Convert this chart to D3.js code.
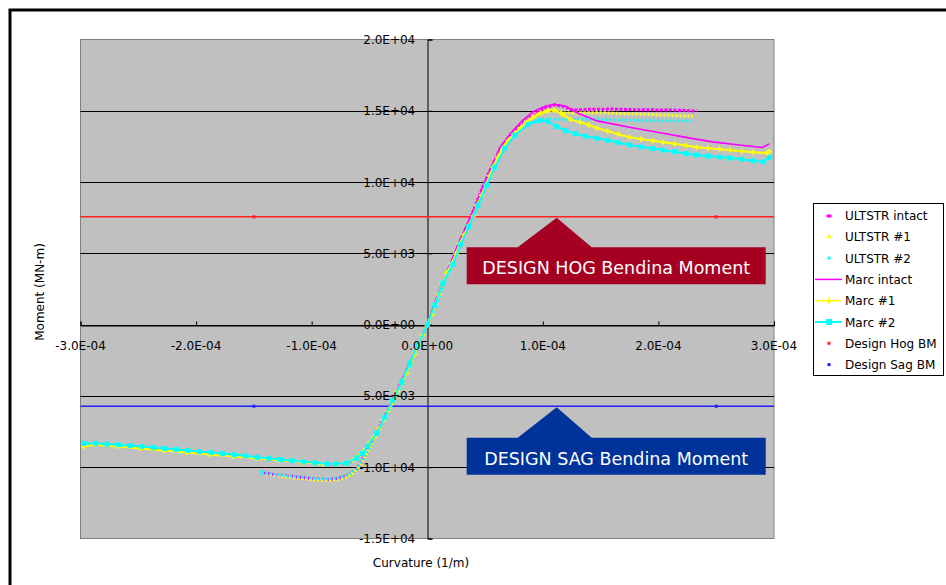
<!DOCTYPE html>
<html><head><meta charset="utf-8">
<script src="https://cdn.jsdelivr.net/npm/d3@7"></script>
<style>
body{margin:0;background:#fff}
svg{display:block}
text{font-family:"DejaVu Sans",sans-serif}
</style>
</head><body>
<svg id="c" width="946" height="585"></svg>
<script>
// Curvature values in units of 1E-04 (1/m); moments in MN-m
const xTicks = [-3,-2,-1,0,1,2,3];
const xTickLabels = ["-3.0E-04","-2.0E-04","-1.0E-04","0.0E+00","1.0E-04","2.0E-04","3.0E-04"];
const yTicks = [-15000,-10000,-5000,0,5000,10000,15000,20000];
const yTickLabels = ["-1.5E+04","-1.0E+04","-5.0E+03","0.0E+00","5.0E+03","1.0E+04","1.5E+04","2.0E+04"];
const seriesNames = ["ULTSTR intact","ULTSTR #1","ULTSTR #2","Marc intact","Marc #1","Marc #2","Design Hog BM","Design Sag BM"];

const ultstrIntact = [[-1.42,-10400],[-1.30,-10550],[-1.16,-10650],[-1.00,-10800],[-0.87,-10870],[-0.78,-10800],[-0.71,-10650],[-0.66,-10450],[-0.61,-10150],[-0.57,-9650],[-0.53,-8950],[-0.47,-8020],[-0.40,-6950],[-0.33,-5820],[-0.26,-4620],[-0.18,-3220],[-0.09,-1620],[0,0],[0.07,1460],[0.14,3020],[0.21,4320],[0.28,5760],[0.35,7010],[0.42,8420],[0.49,9870],[0.56,11130],[0.64,12470],[0.73,13380],[0.84,14250],[0.94,14820],[1.02,15200],[1.10,15420],[1.18,15300],[1.26,15050],[1.40,15100],[1.60,15120],[1.80,15080],[2.00,15060],[2.20,15040],[2.33,14980]];
const ultstr1 = [[-1.40,-10450],[-1.25,-10650],[-1.10,-10780],[-0.95,-10900],[-0.85,-10920],[-0.76,-10850],[-0.70,-10700],[-0.65,-10450],[-0.60,-10100],[-0.56,-9580],[-0.52,-8900],[-0.46,-7980],[-0.39,-6900],[-0.32,-5780],[-0.25,-4580],[-0.17,-3180],[-0.09,-1600],[0,0],[0.07,1440],[0.14,2990],[0.21,4290],[0.28,5730],[0.35,6980],[0.43,8390],[0.50,9840],[0.57,11100],[0.65,12430],[0.74,13330],[0.85,14170],[0.95,14700],[1.03,14950],[1.10,15050],[1.18,14850],[1.30,14850],[1.50,14870],[1.75,14790],[2.00,14720],[2.30,14620]];
const ultstr2 = [[-1.43,-10380],[-1.28,-10550],[-1.12,-10680],[-0.98,-10800],[-0.85,-10820],[-0.76,-10750],[-0.69,-10560],[-0.63,-10250],[-0.59,-9900],[-0.55,-9400],[-0.51,-8750],[-0.45,-7900],[-0.38,-6800],[-0.31,-5700],[-0.24,-4500],[-0.16,-3100],[-0.08,-1550],[0,0],[0.08,1400],[0.15,2950],[0.22,4250],[0.29,5680],[0.36,6930],[0.44,8330],[0.51,9800],[0.58,11060],[0.66,12400],[0.75,13300],[0.86,14100],[0.96,14380],[1.05,14420],[1.20,14380],[1.40,14420],[1.60,14360],[1.80,14330],[2.00,14300],[2.30,14280]];
const marcIntact = [[-2.97,-8620],[-2.90,-8380],[-2.70,-8510],[-2.50,-8650],[-2.30,-8790],[-2.10,-8930],[-1.90,-9070],[-1.70,-9210],[-1.50,-9350],[-1.30,-9490],[-1.10,-9630],[-0.95,-9740],[-0.82,-9820],[-0.72,-9770],[-0.65,-9600],[-0.60,-9380],[-0.56,-9080],[-0.52,-8650],[-0.47,-8080],[-0.43,-7580],[-0.37,-6560],[-0.30,-5360],[-0.22,-4060],[-0.15,-2740],[-0.08,-1470],[0,0],[0.06,1420],[0.13,2960],[0.20,4300],[0.27,5700],[0.34,6960],[0.42,8380],[0.49,9850],[0.56,11120],[0.63,12450],[0.72,13400],[0.82,14300],[0.92,14950],[1.02,15320],[1.10,15450],[1.20,15320],[1.30,14850],[1.47,14290],[1.75,13850],[2.04,13430],[2.25,13120],[2.47,12820],[2.70,12600],[2.90,12430],[2.96,12680]];
const marc1 = [[-2.97,-8560],[-2.88,-8400],[-2.68,-8540],[-2.48,-8680],[-2.28,-8820],[-2.08,-8960],[-1.88,-9100],[-1.68,-9240],[-1.48,-9380],[-1.28,-9520],[-1.08,-9660],[-0.90,-9790],[-0.78,-9800],[-0.70,-9700],[-0.64,-9500],[-0.59,-9220],[-0.55,-8850],[-0.51,-8400],[-0.46,-7880],[-0.42,-7300],[-0.38,-6700],[-0.34,-6050],[-0.30,-5380],[-0.26,-4700],[-0.22,-4060],[-0.18,-3380],[-0.15,-2720],[-0.11,-2080],[-0.08,-1450],[-0.04,-720],[0,0],[0.04,720],[0.07,1400],[0.10,2130],[0.13,2930],[0.17,3640],[0.21,4280],[0.25,4980],[0.28,5680],[0.32,6330],[0.36,6940],[0.40,7630],[0.43,8340],[0.47,9080],[0.51,9820],[0.54,10440],[0.57,11080],[0.61,11740],[0.66,12410],[0.70,12900],[0.75,13340],[0.81,13780],[0.86,14220],[0.92,14600],[0.98,14850],[1.04,15000],[1.10,15050],[1.17,14750],[1.24,14400],[1.32,14200],[1.40,14000],[1.47,13780],[1.56,13580],[1.65,13360],[1.75,13150],[1.85,13020],[1.95,12900],[2.04,12800],[2.14,12680],[2.24,12560],[2.33,12450],[2.43,12380],[2.53,12310],[2.62,12240],[2.72,12170],[2.82,12100],[2.94,12030],[2.96,12130]];
const marc2 = [[-2.97,-8330],[-2.87,-8320],[-2.77,-8380],[-2.67,-8420],[-2.57,-8480],[-2.47,-8540],[-2.37,-8610],[-2.27,-8680],[-2.17,-8750],[-2.07,-8830],[-1.97,-8900],[-1.87,-8960],[-1.77,-9040],[-1.67,-9120],[-1.57,-9200],[-1.47,-9310],[-1.37,-9380],[-1.27,-9460],[-1.17,-9540],[-1.07,-9620],[-0.97,-9690],[-0.87,-9760],[-0.79,-9770],[-0.70,-9713],[-0.61,-9363],[-0.56,-9012],[-0.515,-8521],[-0.437,-7610],[-0.368,-6487],[-0.299,-5295],[-0.221,-4032],[-0.152,-2700],[-0.082,-1438],[0,0],[0.065,1368],[0.134,2911],[0.221,4243],[0.29,5645],[0.36,6880],[0.437,8350],[0.515,9783],[0.584,11045],[0.671,12377],[0.758,13289],[0.87,14030],[0.97,14300],[1.04,14270],[1.12,13900],[1.20,13600],[1.28,13400],[1.37,13220],[1.47,13080],[1.56,12930],[1.65,12780],[1.75,12600],[1.85,12470],[1.95,12350],[2.04,12240],[2.14,12130],[2.24,12000],[2.33,11900],[2.43,11820],[2.53,11750],[2.62,11680],[2.72,11600],[2.82,11500],[2.91,11420],[2.96,11720]];
const designHogX = [-3.2,-1.5,2.5,3.2];
const designHogM = [7560,7560,7560,7560];
const designSagX = [-3.2,-1.5,2.5,3.2];
const designSagM = [-5720,-5720,-5720,-5720];
const hogLabel = "DESIGN HOG Bendina Moment";
const sagLabel = "DESIGN SAG Bendina Moment";
const calloutX = 1.12;

const svg = d3.select("#c");
const x = d3.scaleLinear().domain([-3,3]).range([80.5,774]);
const y = d3.scaleLinear().domain([-15000,20000]).range([538.5,39.5]);

// outer frame
svg.append("rect").attr("x",10).attr("y",10).attr("width",960).attr("height",600)
  .attr("fill","#fff").attr("stroke","#000").attr("stroke-width",3);

// plot area
svg.append("rect").attr("x",x(-3)).attr("y",y(20000)).attr("width",x(3)-x(-3)).attr("height",y(-15000)-y(20000))
  .attr("fill","#c0c0c0").attr("stroke","#808080").attr("stroke-width",1);

svg.append("clipPath").attr("id","clip").append("rect")
  .attr("x",x(-3)).attr("y",y(20000)).attr("width",x(3)-x(-3)).attr("height",y(-15000)-y(20000));

// gridlines
svg.append("g").selectAll("line").data(yTicks.filter(d=>d>-15000&&d<20000)).join("line")
  .attr("x1",x(-3)).attr("x2",x(3)).attr("y1",d=>Math.round(y(d))+0.5).attr("y2",d=>Math.round(y(d))+0.5)
  .attr("stroke","#000").attr("stroke-width",1);

// axes
const xAxis = d3.axisBottom(x).tickValues(xTicks).tickSize(-4).tickFormat("");
svg.append("g").attr("transform",`translate(0,${Math.round(y(0))+0.5})`).call(xAxis)
  .call(g=>g.select(".domain").attr("stroke","#000"))
  .call(g=>g.selectAll(".tick line").attr("stroke","#000"));
const yAxis = d3.axisLeft(y).tickValues(yTicks).tickSize(-5).tickFormat("");
svg.append("g").attr("transform",`translate(${Math.round(x(0))+0.5},0)`).call(yAxis)
  .call(g=>g.select(".domain").attr("stroke","#000"))
  .call(g=>g.selectAll(".tick line").attr("stroke","#000"));

// design lines (drawn first, under curves)
const plot = svg.append("g").attr("clip-path","url(#clip)");
const line = d3.line().x(d=>x(d[0])).y(d=>y(d[1]));
function designSeries(xs, ms, color){
  const pts = xs.map((v,i)=>[v,ms[i]]);
  plot.append("path").datum(pts).attr("d",line).attr("fill","none").attr("stroke",color).attr("stroke-width",1.5);
  plot.append("g").selectAll("rect").data(pts).join("rect")
    .attr("x",d=>x(d[0])-1.5).attr("y",d=>y(d[1])-1.5).attr("width",3).attr("height",3).attr("fill",color);
}
designSeries(designHogX, designHogM, "#ff2020");
designSeries(designSagX, designSagM, "#2020ff");

// ULTSTR series: dense small markers
function dense(data, color, w, dash){
  plot.append("path").datum(data).attr("d",line).attr("fill","none")
    .attr("stroke",color).attr("stroke-width",w).attr("stroke-dasharray",dash);
}
dense(ultstrIntact,"#ff00ff",3,"3,1.5");
dense(ultstr1,"#ffff00",3,"2.5,1.5");
dense(ultstr2,"#00ffff",2.6,"2,2");
plot.append("path").attr("transform",`translate(${x(ultstr2[0][0])},${y(ultstr2[0][1])})`)
  .attr("d",d3.symbol(d3.symbolX,14)).attr("stroke","#00ffff").attr("stroke-width",1.2);

// Marc intact
plot.append("path").datum(marcIntact).attr("d",line).attr("fill","none").attr("stroke","#ff00ff").attr("stroke-width",1.6);
// Marc #1
plot.append("path").datum(marc1).attr("d",line).attr("fill","none").attr("stroke","#ffff00").attr("stroke-width",2);
plot.append("g").selectAll("path").data(marc1).join("path")
  .attr("transform",d=>`translate(${x(d[0])},${y(d[1])})`)
  .attr("d",d3.symbol(d3.symbolCross,16)).attr("fill","#ffff00");
// Marc #2
plot.append("path").datum(marc2).attr("d",line).attr("fill","none").attr("stroke","#00ffff").attr("stroke-width",2);
plot.append("g").selectAll("rect").data(marc2).join("rect")
  .attr("x",d=>x(d[0])-2.5).attr("y",d=>y(d[1])-2.5).attr("width",5).attr("height",5).attr("fill","#00ffff");

// tick labels
svg.append("g").selectAll("text").data(xTicks).join("text")
  .attr("x",d=>x(d)).attr("y",y(0)+25).attr("text-anchor","middle")
  .attr("font-size",12).attr("fill","#000").text((d,i)=>xTickLabels[i]);
svg.append("g").selectAll("text").data(yTicks).join("text")
  .attr("x",x(0)-12).attr("y",d=>y(d)+4.5).attr("text-anchor","end")
  .attr("font-size",12).attr("fill","#000").text((d,i)=>yTickLabels[i]);

// axis titles
svg.append("text").attr("x",421).attr("y",567).attr("text-anchor","middle").attr("font-size",12).text("Curvature (1/m)");
svg.append("text").attr("transform","translate(44,292) rotate(-90)").attr("text-anchor","middle").attr("font-size",12).text("Moment (MN-m)");

// callouts
function callout(value, label, color, topOff){
  const ax = x(calloutX), ay = y(value);
  const top = ay + topOff, bot = top + 37, left = ax - 90, right = ax + 209;
  const pts = [[left,top],[ax-39,top],[ax,ay+1],[ax+35,top],[right,top],[right,bot],[left,bot]];
  svg.append("path").attr("d","M"+pts.map(p=>p.join(",")).join("L")+"Z").attr("fill",color);
  svg.append("text").attr("x",(left+right)/2).attr("y",bot-10).attr("text-anchor","middle")
    .attr("font-size",17.5).attr("fill","#fff").text(label);
}
callout(designHogM[0], hogLabel, "#a50021", 30.5);
callout(designSagM[0], sagLabel, "#003399", 31.5);

// legend
const lg = svg.append("g");
lg.append("rect").attr("x",813.5).attr("y",203.5).attr("width",130).attr("height",172).attr("fill","#fff").attr("stroke","#000");
const ly = i => 215.5 + i*21.3;
seriesNames.forEach((name,i)=>{
  const cy = ly(i), cx = 829;
  if(i===0) lg.append("rect").attr("x",cx-2.5).attr("y",cy-1).attr("width",5).attr("height",3).attr("fill","#ff00ff");
  if(i===1) lg.append("path").attr("transform",`translate(${cx},${cy})`).attr("d",d3.symbol(d3.symbolTriangle,12)).attr("fill","#ffff00");
  if(i===2) lg.append("rect").attr("x",cx-1.5).attr("y",cy-1.5).attr("width",3).attr("height",3).attr("fill","#00ffff");
  if(i===3) lg.append("line").attr("x1",815).attr("x2",842).attr("y1",cy).attr("y2",cy).attr("stroke","#ff00ff").attr("stroke-width",1.5);
  if(i===4){ lg.append("line").attr("x1",815).attr("x2",842).attr("y1",cy).attr("y2",cy).attr("stroke","#ffff00").attr("stroke-width",1.5);
    lg.append("path").attr("transform",`translate(${cx},${cy})`).attr("d",d3.symbol(d3.symbolDiamond,18)).attr("fill","#ffff00"); }
  if(i===5){ lg.append("line").attr("x1",815).attr("x2",842).attr("y1",cy).attr("y2",cy).attr("stroke","#00ffff").attr("stroke-width",2);
    lg.append("rect").attr("x",cx-3).attr("y",cy-3).attr("width",6).attr("height",6).attr("fill","#00ffff"); }
  if(i===6) lg.append("rect").attr("x",cx-1.5).attr("y",cy-1.5).attr("width",3).attr("height",3).attr("fill","#ff2020");
  if(i===7) lg.append("rect").attr("x",cx-1.5).attr("y",cy-1.5).attr("width",3).attr("height",3).attr("fill","#2020ff");
  lg.append("text").attr("x",845).attr("y",cy+4.5).attr("font-size",12).attr("fill","#000").text(name);
});
</script>
</body></html>
